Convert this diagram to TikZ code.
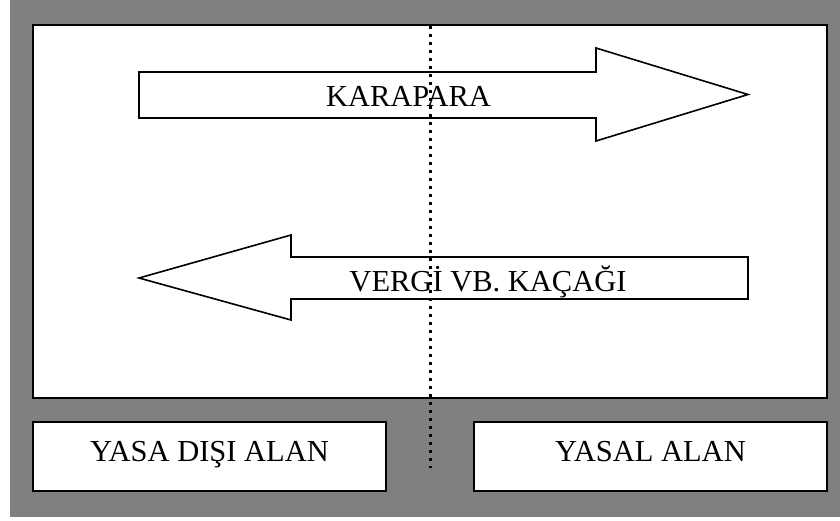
\documentclass[tikz,border=0pt]{standalone}
\usepackage{fontspec}
\setmainfont{Liberation Serif}
\definecolor{bggray}{RGB}{128,128,128}
\begin{document}
\begin{tikzpicture}[x=1pt,y=-1pt,
  frame/.style={draw=black,line width=2pt,fill=white},
  arrowshape/.style={draw=black,line width=1.6pt,fill=white,line join=miter},
  lbl/.style={font=\fontsize{30.5}{36}\selectfont,inner sep=0pt,anchor=base},
  sepline/.style={line width=3pt,dash pattern=on 3pt off 5pt}]
\useasboundingbox (0,0) rectangle (840,520);
\fill[bggray] (10,0) rectangle (840,517);
% main area
\draw[frame] (33,25) rectangle (827,398);
% bottom boxes
\draw[frame] (33,422) rectangle (386,491);
\draw[frame] (474,422) rectangle (827,491);
% right arrow
\draw[arrowshape] (139,72) -- (596,72) -- (596,48) -- (748,94.5) -- (596,141) -- (596,118) -- (139,118) -- cycle;
% left arrow
\draw[arrowshape] (748,257) -- (291,257) -- (291,235) -- (139,278) -- (291,320) -- (291,299) -- (748,299) -- cycle;
% separator
\coordinate (septop) at (430,26);
\coordinate (sepbot) at (430,468);
\draw[sepline] (septop) -- (sepbot);
% labels
\node[lbl] (kara) at (408.5,106.5) {KARAPARA};
\node[lbl] (vergi) at (488,291) {VERGİ VB. KAÇAĞI};
\node[lbl] (yasadisi) at (209.5,461) {YASA DIŞI ALAN};
\node[lbl] (yasal) at (650.5,461) {YASAL ALAN};
\end{tikzpicture}
\end{document}
